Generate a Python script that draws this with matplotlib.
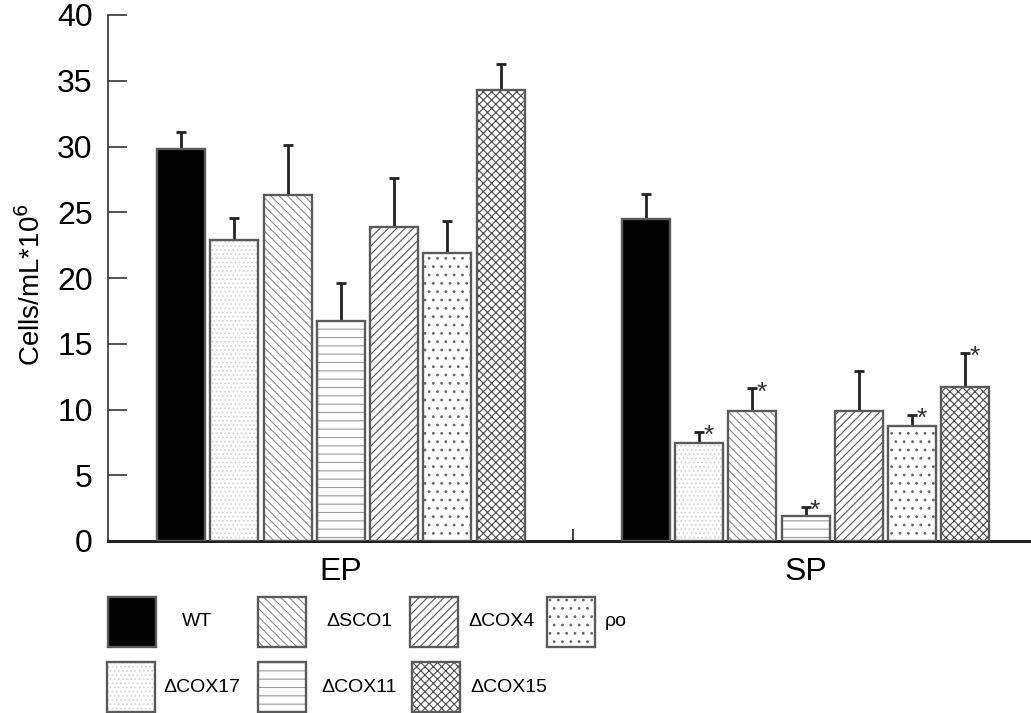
import matplotlib
matplotlib.use("Agg")
import matplotlib.pyplot as plt
from matplotlib.patches import Rectangle
import numpy as np

plt.rcParams['font.family'] = ['Liberation Sans', 'DejaVu Sans']
plt.rcParams['hatch.linewidth'] = 0.8

# ---- data ----
groups = ["EP", "SP"]
strains = ["WT", "ΔCOX17", "ΔSCO1", "ΔCOX11", "ΔCOX4", "ρo", "ΔCOX15"]
ep_values = [29.8, 22.9, 26.3, 16.7, 23.9, 21.9, 34.3]
ep_errors = [1.3, 1.7, 3.8, 2.9, 3.7, 2.4, 2.0]
sp_values = [24.5, 7.45, 9.9, 1.9, 9.9, 8.75, 11.7]
sp_errors = [1.9, 0.85, 1.7, 0.7, 3.0, 0.85, 2.6]
sp_significant = [False, True, True, True, False, True, True]
yticks = [0, 5, 10, 15, 20, 25, 30, 35, 40]

# ---- style per strain ----
face = ["black", "white", "white", "white", "white", "white", "white"]
hatches = [None, "....", "\\\\\\\\", "--", "////", "..", "xxxx"]
hatch_col = ["black", "#d4d4d4", "#8a8a8a", "#9a9a9a", "#555555", "#666666", "#4a4a4a"]
outline = "#5a5a5a"

W, H = 1031, 713
fig = plt.figure(figsize=(W / 100, H / 100), dpi=100)
ax = fig.add_axes([108 / W, (713 - 541) / H, (1031 - 108) / W, (541 - 15) / H])

group_offset = [0.0, 8.72]
bar_w = 0.9

for g, (vals, errs) in enumerate([(ep_values, ep_errors), (sp_values, sp_errors)]):
    xs = np.arange(len(strains)) + group_offset[g]
    for i, x in enumerate(xs):
        ax.bar(x, vals[i], width=bar_w, color=face[i], edgecolor=hatch_col[i],
               hatch=hatches[i], linewidth=0, zorder=2)
        ax.bar(x, vals[i], width=bar_w, fill=False, edgecolor=outline,
               linewidth=1.7, zorder=3)
    ax.errorbar(xs, vals, yerr=[np.zeros(len(vals)), errs], fmt='none',
                ecolor='#222222', elinewidth=2, capsize=3.5, capthick=2, zorder=1)
    if g == 1:
        for i, x in enumerate(xs):
            if sp_significant[i]:
                ax.text(x + 0.18, vals[i] + errs[i] - 0.85, "*", fontsize=19,
                        ha='center', va='baseline', color='#333333')

ax.set_xlim(-1.37, 15.95)
ax.set_ylim(0, 40)
ax.set_yticks(yticks)
ax.tick_params(axis='y', direction='in', length=14, width=1.2, labelsize=23,
               pad=11, color='#333333')
mid = (6 + group_offset[1]) / 2
ax.set_xticks([mid])
ax.set_xticklabels([""])
ax.tick_params(axis='x', direction='in', length=9, width=1.3, color='#333333')

for s in ['top', 'right']:
    ax.spines[s].set_visible(False)
ax.spines['left'].set_linewidth(1.2)
ax.spines['left'].set_color('#333333')
ax.spines['bottom'].set_linewidth(2.2)
ax.spines['bottom'].set_color('#222222')

ax.set_ylabel("Cells/mL*10$^6$", fontsize=20)
ax.yaxis.set_label_coords(-0.067, 0.487)

for g, name in enumerate(groups):
    ax.text(group_offset[g] + 3, -1.25, name, fontsize=23, ha='center', va='top',
            transform=ax.transData)

# ---- legend (manual layout) ----
legend_items = [
    (0, 108, 597, 182), (2, 258, 597, 326), (4, 410, 597, 468), (5, 547, 597, 605),
    (1, 107, 662, 163), (3, 258, 662, 321), (6, 412, 662, 470),
]
pw, ph = 48, 50
for idx, px, py, tx in legend_items:
    r1 = Rectangle((px / W, (H - py - ph) / H), pw / W, ph / H, transform=fig.transFigure,
                   facecolor=face[idx], edgecolor=hatch_col[idx], hatch=hatches[idx],
                   linewidth=0)
    r2 = Rectangle((px / W, (H - py - ph) / H), pw / W, ph / H, transform=fig.transFigure,
                   fill=False, edgecolor=outline, linewidth=1.7)
    fig.add_artist(r1)
    fig.add_artist(r2)
    fig.text(tx / W, (H - py - ph / 2) / H, strains[idx], fontsize=14, va='center', ha='left')

fig.savefig("out.png", dpi=100)
